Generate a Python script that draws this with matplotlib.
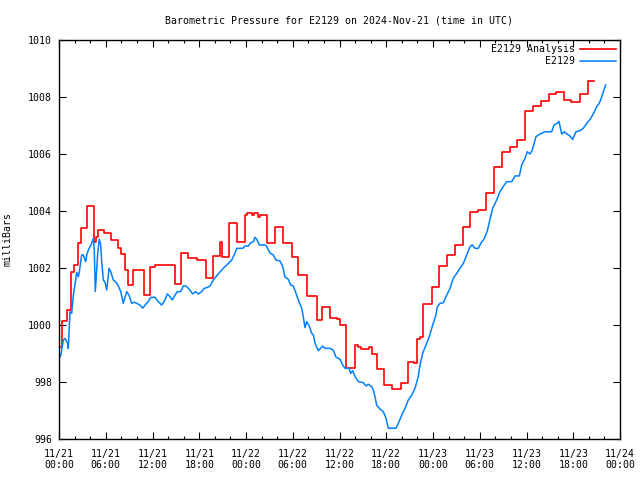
import matplotlib
matplotlib.use("Agg")
import matplotlib.pyplot as plt
import numpy as np

# hours since 2024-11-21 00:00 UTC, pressure in mb
analysis_hours = [
    0.00, 0.35, 0.99, 1.50, 1.93, 2.48, 2.79, 3.59, 4.53, 4.71, 4.97, 5.78,
    6.67, 7.57, 7.96, 8.47, 8.89, 9.56, 10.87, 11.68, 12.32, 14.89, 15.66,
    16.59, 17.67, 18.87, 19.73, 20.66, 20.88, 21.82, 22.84, 23.87, 24.09,
    24.73, 25.03, 25.54, 25.80, 26.66, 27.72, 28.79, 29.87, 30.71, 31.79,
    33.07, 33.79, 34.78, 35.68, 36.06, 36.83, 37.99, 38.37, 38.76, 39.79,
    40.13, 40.77, 41.75, 42.70, 43.85, 44.83, 45.56, 45.91, 46.33, 46.75,
    47.83, 48.77, 49.76, 50.82, 51.81, 52.75, 53.81, 54.80, 55.83, 56.89,
    57.88, 58.82, 59.81, 60.87, 61.82, 62.93, 63.79, 64.81, 65.67, 66.87,
    67.85, 68.70,
]
analysis_mb = [
    999.22, 1000.15, 1000.53, 1001.87, 1002.10, 1002.87, 1003.39, 1004.19,
    1002.92, 1003.10, 1003.33, 1003.22, 1003.00, 1002.71, 1002.48, 1001.93,
    1001.40, 1001.93, 1001.05, 1002.02, 1002.10, 1001.44, 1002.52, 1002.34,
    1002.28, 1001.64, 1002.42, 1002.92, 1002.40, 1003.57, 1002.92, 1003.86,
    1003.94, 1003.86, 1003.94, 1003.78, 1003.86, 1002.87, 1003.43, 1002.87,
    1002.40, 1001.75, 1001.02, 1000.18, 1000.62, 1000.24, 1000.20, 1000.00,
    998.48, 999.30, 999.22, 999.15, 999.22, 999.00, 998.45, 997.89, 997.75,
    997.98, 998.71, 998.65, 999.50, 999.59, 1000.74, 1001.34, 1002.07,
    1002.46, 1002.81, 1003.45, 1003.95, 1004.04, 1004.64, 1005.55, 1006.08,
    1006.26, 1006.49, 1007.52, 1007.68, 1007.87, 1008.09, 1008.16, 1007.89,
    1007.81, 1008.09, 1008.57, 1008.57,
]

station_hours = [
    0.00, 0.26, 0.55, 0.77, 1.12, 1.19, 1.41, 1.63, 1.84, 2.14, 2.27, 2.48,
    2.61, 2.91, 3.12, 3.43, 3.56, 3.85, 4.11, 4.40, 4.53, 4.66, 4.79, 4.97,
    5.17, 5.35, 5.48, 5.69, 5.90, 6.12, 6.20, 6.42, 6.64, 6.97, 7.32, 7.61,
    7.92, 8.25, 8.47, 8.69, 8.98, 9.33, 9.66, 9.97, 10.40, 10.74, 11.04,
    11.46, 11.77, 12.32, 12.74, 13.18, 13.60, 13.90, 14.25, 14.54, 14.89,
    15.18, 15.62, 15.95, 16.30, 16.72, 17.16, 17.49, 17.88, 18.31, 18.61,
    19.03, 19.38, 19.80, 20.44, 21.09, 21.73, 22.16, 22.59, 22.81, 23.58,
    23.87, 24.30, 24.60, 24.94, 25.15, 25.37, 25.71, 26.44, 26.66, 27.08,
    27.50, 27.85, 28.36, 28.71, 29.00, 29.43, 29.74, 30.07, 30.42, 30.71,
    31.15, 31.35, 31.57, 31.79, 32.12, 32.43, 32.64, 32.86, 33.28, 33.84,
    34.14, 34.78, 35.20, 35.55, 36.06, 36.41, 36.71, 37.22, 37.44, 37.69,
    37.99, 38.41, 39.05, 39.40, 39.70, 40.13, 40.34, 40.56, 40.77, 41.20,
    41.62, 41.97, 42.26, 43.25, 43.55, 43.98, 44.41, 44.83, 45.27, 45.69,
    46.11, 46.33, 46.68, 47.19, 47.52, 47.96, 48.38, 48.55, 48.90, 49.32,
    49.76, 50.18, 50.60, 51.04, 51.46, 51.89, 52.32, 52.75, 53.04, 53.39,
    53.81, 54.25, 54.54, 54.97, 55.32, 55.66, 56.18, 56.60, 57.02, 57.46,
    58.10, 58.52, 59.08, 59.38, 59.81, 60.10, 60.45, 60.74, 61.22, 61.73,
    62.37, 63.23, 63.53, 63.95, 64.17, 64.52, 64.85, 65.24, 65.58, 65.93,
    66.35, 66.87, 67.29, 67.73, 68.24, 68.66, 69.01, 69.34, 69.65, 69.94,
    70.16,
]
station_mb = [
    998.81, 998.97, 999.47, 999.53, 999.36, 999.18, 1000.47, 1000.41, 1001.05,
    1001.58, 1001.85, 1001.69, 1001.87, 1002.46, 1002.46, 1002.22, 1002.46,
    1002.69, 1002.81, 1003.04, 1002.63, 1001.17, 1001.75, 1002.52, 1003.01,
    1002.81, 1002.22, 1001.58, 1001.50, 1001.23, 1001.40, 1001.99, 1001.87,
    1001.58, 1001.50, 1001.38, 1001.17, 1000.76, 1000.96, 1001.17, 1001.05,
    1000.76, 1000.80, 1000.76, 1000.70, 1000.59, 1000.70, 1000.82, 1000.97,
    1000.97, 1000.82, 1000.70, 1000.88, 1001.09, 1000.99, 1000.88, 1001.05,
    1001.17, 1001.17, 1001.37, 1001.37, 1001.25, 1001.09, 1001.17, 1001.09,
    1001.17, 1001.28, 1001.32, 1001.37, 1001.58, 1001.79, 1001.99, 1002.16,
    1002.28, 1002.52, 1002.69, 1002.69, 1002.77, 1002.77, 1002.89, 1002.92,
    1003.08, 1003.01, 1002.81, 1002.81, 1002.75, 1002.52, 1002.46, 1002.28,
    1002.25, 1002.05, 1001.69, 1001.60, 1001.40, 1001.37, 1001.11, 1000.88,
    1000.59, 1000.29, 999.91, 1000.12, 999.96, 999.71, 999.65, 999.36,
    999.10, 999.26, 999.18, 999.18, 999.12, 998.87, 998.80, 998.60, 998.48,
    998.48, 998.30, 998.40, 998.19, 998.01, 997.98, 997.86, 997.92, 997.84,
    997.72, 997.48, 997.19, 997.05, 996.96, 996.73, 996.38, 996.38, 996.55,
    996.84, 997.08, 997.37, 997.54, 997.78, 998.19, 998.60, 999.01, 999.36,
    999.59, 1000.00, 1000.35, 1000.64, 1000.76, 1000.78, 1001.05, 1001.28,
    1001.64, 1001.81, 1001.99, 1002.16, 1002.46, 1002.75, 1002.81, 1002.69,
    1002.69, 1002.92, 1003.01, 1003.30, 1003.72, 1004.09, 1004.39, 1004.68,
    1004.86, 1005.03, 1005.03, 1005.23, 1005.23, 1005.61, 1005.85, 1006.08,
    1006.00, 1006.14, 1006.61, 1006.70, 1006.78, 1006.78, 1007.02, 1007.08,
    1007.14, 1006.70, 1006.78, 1006.69, 1006.63, 1006.51, 1006.78, 1006.82,
    1006.90, 1007.07, 1007.25, 1007.45, 1007.66, 1007.78, 1008.00, 1008.25,
    1008.42,
]

x_tick_hours = list(range(0, 73, 6))
x_tick_labels = [
    "11/21\n00:00", "11/21\n06:00", "11/21\n12:00", "11/21\n18:00",
    "11/22\n00:00", "11/22\n06:00", "11/22\n12:00", "11/22\n18:00",
    "11/23\n00:00", "11/23\n06:00", "11/23\n12:00", "11/23\n18:00",
    "11/24\n00:00",
]
y_ticks = [996, 998, 1000, 1002, 1004, 1006, 1008, 1010]

plt.rcParams["font.family"] = "DejaVu Sans Mono"
plt.rcParams["font.size"] = 7.1

fig = plt.figure(figsize=(6.4, 4.8), dpi=100)
ax = fig.add_axes([59 / 640, 41 / 480, 561 / 640, 399 / 480])

ax.plot(analysis_hours, analysis_mb, color="#ff0000", lw=1.2,
        drawstyle="steps-post", label="E2129 Analysis")
ax.plot(station_hours, station_mb, color="#0080ff", lw=1.1, label="E2129")

ax.set_xlim(0, 72)
ax.set_ylim(996, 1010)
ax.set_xticks(x_tick_hours)
ax.set_xticklabels(x_tick_labels, linespacing=1.15)
ax.set_xticks(np.arange(0, 73, 2), minor=True)
ax.set_yticks(y_ticks)
ax.set_yticklabels([str(v) for v in y_ticks])
ax.tick_params(axis="both", which="both", direction="in", top=True, right=True,
               width=0.8, colors="black")
ax.tick_params(axis="both", which="major", length=5, pad=5)
ax.tick_params(axis="x", which="major", pad=7)
ax.tick_params(axis="both", which="minor", length=2.5)
for s in ax.spines.values():
    s.set_linewidth(1.0)

ax.set_ylabel("milliBars", labelpad=11)
fig.text(0.53, 0.958, "Barometric Pressure for E2129 on 2024-Nov-21 (time in UTC)",
         ha="center", va="center")

ax.legend(loc="upper right", frameon=False, markerfirst=False, handlelength=3.6,
          borderaxespad=0.15, labelspacing=0.2, handletextpad=0.5,
          borderpad=0.3)

fig.savefig("out.png", dpi=100)
